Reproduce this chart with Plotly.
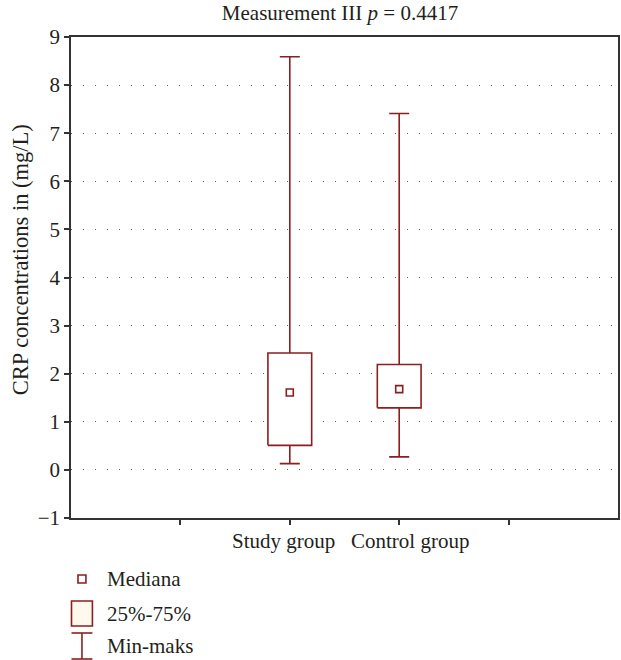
import plotly.graph_objects as go

# ---- data ----
categories = ["Study group", "Control group"]
mins = [0.13, 0.27]
q1s = [0.51, 1.29]
medians = [1.61, 1.68]
q3s = [2.43, 2.19]
maxs = [8.59, 7.41]

y_ticks = [-1, 0, 1, 2, 3, 4, 5, 6, 7, 8, 9]
x_ticks = [0, 1, 2, 3]
legend_labels = ["Mediana", "25%-75%", "Min-maks"]
y_title = "CRP concentrations in (mg/L)"

RED = "#8B1F1F"
FONT = "Liberation Serif"
FS = 21
TXT = "#231F20"
BOX_HALF = 0.2

xpos = [categories.index(c) + 1 for c in categories]

fig = go.Figure()

# whiskers (min-max) as error bars around the median
fig.add_trace(go.Scatter(
    x=xpos, y=medians, mode="markers",
    marker=dict(size=1, color="rgba(0,0,0,0)"),
    error_y=dict(type="data", symmetric=False,
                 array=[mx - md for mx, md in zip(maxs, medians)],
                 arrayminus=[md - mn for md, mn in zip(medians, mins)],
                 color=RED, thickness=1.6, width=10),
    showlegend=False, hoverinfo="skip"))

# boxes (25%-75%)
for x, a, b in zip(xpos, q1s, q3s):
    fig.add_trace(go.Scatter(
        x=[x - BOX_HALF, x + BOX_HALF, x + BOX_HALF, x - BOX_HALF, x - BOX_HALF],
        y=[a, a, b, b, a], mode="lines", fill="toself", fillcolor="white",
        line=dict(color=RED, width=1.6), showlegend=False, hoverinfo="skip"))

# medians
fig.add_trace(go.Scatter(
    x=xpos, y=medians, mode="markers",
    marker=dict(symbol="square-open", size=7, color=RED, line=dict(width=1.6)),
    showlegend=False))

# ---- layout geometry (pixels) ----
W, H = 621, 660
L, R, T, B = 71, 1, 37, 142
pw, ph = W - L - R, H - T - B

def px(xp):
    return (xp - L) / pw

def py(yp):
    return (H - B - yp) / ph

shapes = []
annotations = []
# category labels (slightly spread apart as in the original)
for c, x, shift in zip(categories, xpos, [-6.5, 10.5]):
    annotations.append(dict(text=c, xref="x", yref="paper", x=x, xshift=shift,
                            y=py(541), xanchor="center", yanchor="middle",
                            showarrow=False, font=dict(family=FONT, size=FS, color=TXT)))
# y-axis title
annotations.append(dict(text=y_title, xref="paper", yref="paper", x=px(20), y=py(260),
                        textangle=-90, xanchor="center", yanchor="middle", showarrow=False,
                        font=dict(family=FONT, size=22.5, color=TXT)))
# legend: median marker
shapes.append(dict(type="rect", xref="paper", yref="paper",
                   x0=px(78), x1=px(86), y0=py(583), y1=py(575),
                   line=dict(color=RED, width=1.6), fillcolor="white"))
# legend: box
shapes.append(dict(type="rect", xref="paper", yref="paper",
                   x0=px(71.5), x1=px(92.5), y0=py(626), y1=py(601),
                   line=dict(color=RED, width=1.6), fillcolor="#FFF8EC"))
# legend: whisker
for (x0, y0, x1, y1) in [(71.5, 633, 92.5, 633), (82, 633, 82, 659), (71.5, 659, 92.5, 659)]:
    shapes.append(dict(type="line", xref="paper", yref="paper",
                       x0=px(x0), x1=px(x1), y0=py(y0), y1=py(y1),
                       line=dict(color=RED, width=1.6)))
for lbl, yc in zip(legend_labels, [579, 614, 646]):
    annotations.append(dict(text=lbl, xref="paper", yref="paper",
                            x=px(105), y=py(yc), xanchor="left", yanchor="middle",
                            showarrow=False, font=dict(family=FONT, size=FS, color=TXT)))

fig.update_layout(
    width=W, height=H,
    margin=dict(l=L, r=R, t=T, b=B),
    paper_bgcolor="white", plot_bgcolor="white",
    font=dict(family=FONT, size=FS, color=TXT),
    title=dict(text="Measurement III <i>p</i> = 0.4417", x=340 / W, xanchor="center",
               xref="container", y=1 - 13 / H, yanchor="middle",
               font=dict(family=FONT, size=FS, color=TXT)),
    shapes=shapes, annotations=annotations,
    showlegend=False,
)

fig.update_xaxes(
    range=[-1, 4], tickmode="array", tickvals=x_ticks, showticklabels=False,
    ticks="outside", ticklen=5, tickwidth=1.5, tickcolor="#333",
    showline=True, linecolor="#333", linewidth=1.5, mirror=True,
    showgrid=False, zeroline=False, fixedrange=True)

fig.update_yaxes(
    range=[-1, 9], tickmode="array", tickvals=y_ticks,
    ticks="outside", ticklen=5, tickwidth=1.5, tickcolor="#333",
    showline=True, linecolor="#333", linewidth=1.5, mirror=True,
    showgrid=True, gridcolor="#555", gridwidth=1.3, griddash="1.3px,10.7px",
    zeroline=False, fixedrange=True)

fig.write_html("out.html", config={"displayModeBar": False},
               post_script="document.body.style.margin='0';document.body.style.overflow='hidden';")
